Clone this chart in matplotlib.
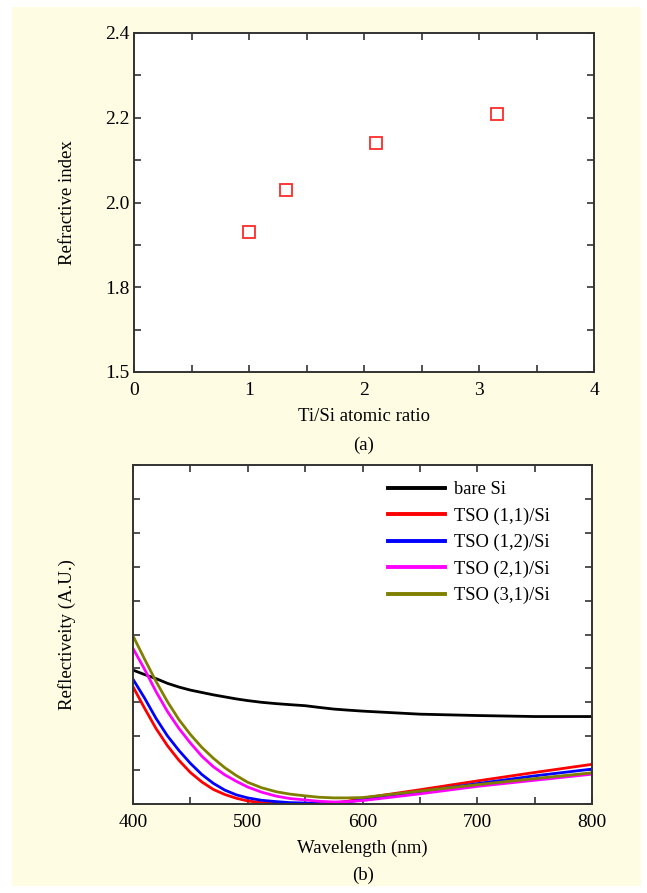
import matplotlib.pyplot as plt
from matplotlib.patches import Rectangle
from matplotlib.ticker import MultipleLocator

plt.rcParams['font.family'] = ['Liberation Serif', 'DejaVu Serif']

# (a) refractive index vs Ti/Si ratio
ratio = [1.0, 1.32, 2.10, 3.16]
n_index = [1.93, 2.03, 2.14, 2.21]
y_ticks = [1.6, 1.8, 2.0, 2.2, 2.4]
y_ticklabels = ["1.5", "1.8", "2.0", "2.2", "2.4"]

# (b) reflectivity spectra (arbitrary units)
wl = [400, 410, 420, 430, 440, 450, 460, 470, 480, 490, 500, 512,
      525, 537, 550, 562, 575, 587, 600, 650, 700, 750, 800]
bare_si = [3.95, 3.82, 3.70, 3.56, 3.45, 3.36, 3.29, 3.22, 3.16, 3.10, 3.05, 3.0,
           2.96, 2.93, 2.90, 2.85, 2.80, 2.77, 2.74, 2.65, 2.61, 2.58, 2.58]
tso_11 = [3.46, 2.83, 2.23, 1.72, 1.29, 0.93, 0.65, 0.43, 0.28, 0.17, 0.09, 0.04,
          0.02, 0.01, 0.0, 0.0, 0.03, 0.08, 0.17, 0.42, 0.68, 0.93, 1.17]
tso_12 = [3.68, 3.13, 2.53, 2.01, 1.58, 1.20, 0.87, 0.61, 0.41, 0.27, 0.18, 0.11,
          0.07, 0.04, 0.03, 0.02, 0.03, 0.06, 0.12, 0.36, 0.60, 0.83, 1.03]
tso_21 = [4.59, 3.98, 3.32, 2.73, 2.23, 1.80, 1.41, 1.10, 0.86, 0.67, 0.50, 0.35,
          0.23, 0.16, 0.12, 0.08, 0.06, 0.07, 0.10, 0.30, 0.52, 0.70, 0.88]
tso_31 = [4.96, 4.28, 3.62, 3.02, 2.49, 2.05, 1.67, 1.35, 1.07, 0.84, 0.64, 0.48,
          0.36, 0.29, 0.24, 0.20, 0.18, 0.18, 0.19, 0.38, 0.57, 0.75, 0.92]

series = [("bare Si", bare_si, "black"),
          ("TSO (1,1)/Si", tso_11, "#ff0000"),
          ("TSO (1,2)/Si", tso_12, "#0000ff"),
          ("TSO (2,1)/Si", tso_21, "#ff00ff"),
          ("TSO (3,1)/Si", tso_31, "#808000")]

W, H = 647, 893
fig = plt.figure(figsize=(W / 100, H / 100), dpi=100, facecolor="white")
fig.patches.append(Rectangle((12 / W, 7 / H), 629 / W, 879 / H,
                             transform=fig.transFigure, facecolor="#fefde3",
                             edgecolor="none", zorder=-10))


def style_axes(ax):
    for s in ax.spines.values():
        s.set_linewidth(1.4)
        s.set_color("#333333")
    ax.tick_params(which="both", direction="in", top=True, right=True,
                   length=5, width=1.2, color="#333333", labelsize=14)
    ax.set_facecolor("white")


ax1 = fig.add_axes([134 / W, 1 - 372 / H, 460 / W, 339 / H])
ax1.plot(ratio, n_index, linestyle="none", marker="s", markersize=8,
         markerfacecolor="white", markeredgecolor="#ff2a2a", markeredgewidth=1.3)
ax1.set_xlim(0, 4)
ax1.set_ylim(1.6, 2.4)
ax1.xaxis.set_major_locator(MultipleLocator(1))
ax1.xaxis.set_minor_locator(MultipleLocator(0.5))
ax1.set_yticks(y_ticks)
ax1.set_yticklabels(y_ticklabels)
ax1.yaxis.set_minor_locator(MultipleLocator(0.1))
style_axes(ax1)
ax1.tick_params(axis="x", pad=7)
ax1.tick_params(axis="y", pad=3)
ax1.set_xlabel("Ti/Si atomic ratio", fontsize=13.5)
ax1.xaxis.set_label_coords(0.5, -0.105)
ax1.set_ylabel("Refractive index", fontsize=13.5)
ax1.yaxis.set_label_coords(-0.125, 0.5)
fig.text(364 / W, 1 - 445 / H, "(a)", ha="center", va="center", fontsize=13.5)

ax2 = fig.add_axes([133 / W, 1 - 804 / H, 459 / W, 339 / H])
for label, vals, color in series:
    ax2.plot(wl, vals, color=color, linewidth=2.0, label=label)
ax2.set_xlim(400, 800)
ax2.set_ylim(0, 10)
ax2.xaxis.set_major_locator(MultipleLocator(100))
ax2.xaxis.set_minor_locator(MultipleLocator(50))
ax2.yaxis.set_major_locator(MultipleLocator(1))
ax2.set_yticklabels([])
style_axes(ax2)
ax2.tick_params(axis="x", pad=7)
ax2.set_xlabel("Wavelength (nm)", fontsize=13.5)
ax2.xaxis.set_label_coords(0.5, -0.105)
ax2.set_ylabel("Reflectiveity (A.U.)", fontsize=13.5)
ax2.yaxis.set_label_coords(-0.125, 0.5)
fig.text(363 / W, 1 - 875 / H, "(b)", ha="center", va="center", fontsize=13.5)

leg = ax2.legend(loc="upper left", bbox_to_anchor=(0.556, 0.952), frameon=False,
                 fontsize=13.3, handlelength=3.1, handletextpad=0.45,
                 labelspacing=0.5, borderpad=0, borderaxespad=0)
for line in leg.get_lines():
    line.set_linewidth(2.8)

fig.savefig("out.png", dpi=100, facecolor="white")
